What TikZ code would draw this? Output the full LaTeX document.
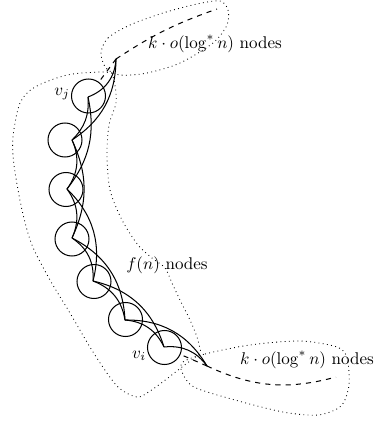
\documentclass[tikz,border=0pt]{standalone}
\begin{document}
\begin{tikzpicture}[x=0.5882pt,y=-0.5882pt,
  vcirc/.style={draw,circle,minimum size=20pt,inner sep=0pt,line width=0.6pt},
  arc/.style={line width=0.6pt},
  dashedge/.style={dashed,line width=0.6pt},
  blob/.style={dotted,line width=0.5pt},
  txt/.style={inner sep=0pt}]
\useasboundingbox (0,0) rectangle (375,423);
% vertices
\coordinate (T) at (116,59);
\coordinate (B) at (207,366);
\coordinate (p1) at (88,97);
\coordinate (p2) at (72,140);
\coordinate (p3) at (67,189);
\coordinate (p4) at (72,238);
\coordinate (p5) at (93,281);
\coordinate (p6) at (125,320);
\coordinate (p7) at (164,347);
\coordinate (e1) at (217,9);
\coordinate (e2) at (336,377);
% circles
\node[vcirc] (n1) at (88.5,96) {};
\node[vcirc] (n2) at (65,140) {};
\node[vcirc] (n3) at (66,189.5) {};
\node[vcirc] (n4) at (72,239) {};
\node[vcirc] (n5) at (94,281.5) {};
\node[vcirc] (n6) at (125.5,319.5) {};
\node[vcirc] (n7) at (164.5,347.5) {};
% labels
\node[txt] (lj) at (62,94) {$v_j$};
\node[txt] (li) at (139,356) {$v_i$};
\node[txt] (ktop) at (215,44) {$k\cdot o(\log^* n)$ nodes};
\node[txt] (kbot) at (307,360) {$k\cdot o(\log^* n)$ nodes};
\node[txt] (fn) at (167,265) {$f(n)$ nodes};
% edges
\draw[arc] (T) to[bend left=33] (p1);
\draw[arc] (T) to[bend left=28] (p2);
\draw[arc] (p1) to[bend left=25] (p2);
\draw[arc] (p1) to[bend left=25] (p3);
\draw[arc] (p2) to[bend left=30] (p3);
\draw[arc] (p2) to[bend left=25] (p4);
\draw[arc] (p3) to[bend left=30] (p4);
\draw[arc] (p3) to[bend left=30] (p5);
\draw[arc] (p4) to[bend left=30] (p5);
\draw[arc] (p4) to[bend left=30] (p6);
\draw[arc] (p5) to[bend left=30] (p6);
\draw[arc] (p5) to[bend left=30] (p7);
\draw[arc] (p6) to[bend left=30] (p7);
\draw[arc] (p6) to[bend left=30] (B);
\draw[arc] (p7) to[bend left=30] (B);
% dashed
\draw[dashedge] (T) to[bend left=7] (e1);
\draw[dashedge] (B) to[bend right=20] (e2);
\draw[dashedge] (T) -- (n1);
\draw[dashedge] (B) -- (n7);
% dotted blobs
\draw[blob] plot[smooth cycle] coordinates {(101,53) (108,38) (130,25) (163,13) (197,4) (220,1) (228,10) (227,25) (213,43) (180,63) (147,73) (120,75) (106,68)};
\draw[blob] plot[smooth] coordinates {(112,73) (100,72) (67,75) (35,87) (20,103) (13,137) (14,165) (22,210) (32,245) (50,280) (70,313) (93,352) (117,386) (137,397) (150,391) (164,381) (182,367) (201,353)};
\draw[blob] plot[smooth] coordinates {(112,73) (115,85) (116,103) (109,125) (107,155) (110,190) (122,220) (138,245) (152,258) (165,268) (172,283) (180,300) (190,320) (197,337) (201,353)};
\draw[blob] plot[smooth cycle] coordinates {(183,362) (205,354) (250,345) (300,341) (337,347) (347,358) (349,385) (341,406) (318,415) (283,412) (235,400) (194,387) (182,372)};
\end{tikzpicture}
\end{document}
